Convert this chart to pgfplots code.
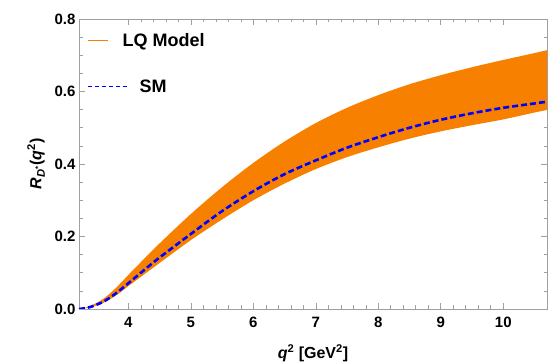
\documentclass[border=0pt]{standalone}
\usepackage{pgfplots}
\pgfplotsset{compat=1.18}
\usepgfplotslibrary{fillbetween}
\usepackage{fontspec}
\setmainfont{Liberation Sans}
\definecolor{lqorange}{RGB}{248,128,0}
\definecolor{framegray}{RGB}{160,160,160}
\begin{document}
\begin{tikzpicture}
\begin{axis}[
  scale only axis,
  width=468pt, height=290pt,
  xmin=3.21, xmax=10.7,
  ymin=0, ymax=0.8,
  xtick={4,5,6,7,8,9,10},
  ytick={0,0.2,0.4,0.6,0.8},
  minor x tick num=4,
  minor y tick num=3,
  tick align=inside,
  major tick length=6pt,
  minor tick length=3.5pt,
  axis line style={framegray, line width=0.8pt},
  every tick/.style={framegray, line width=0.6pt},
  xticklabel style={yshift=-5pt},
  yticklabel style={/pgf/number format/fixed, /pgf/number format/fixed zerofill, /pgf/number format/precision=1},
  tick label style={font=\bfseries\fontsize{15}{17}\selectfont},
  /pgf/number format/assume math mode=true,
  xlabel={\textbf{\textit{q}\textsuperscript{2} [GeV\textsuperscript{2}]}},
  ylabel={\textbf{\textit{R}\textsubscript{\textit{D}\textsuperscript{*}}(\textit{q}\textsuperscript{2})}},
  every axis x label/.style={at={(rel axis cs:0.5,0)}, yshift=-44pt, anchor=center, font=\fontsize{16}{18}\selectfont},
  every axis y label/.style={at={(rel axis cs:0,0.5)}, xshift=-43pt, rotate=90, anchor=center, font=\fontsize{16}{18}\selectfont},
  legend style={draw=none, fill=none, at={(rel axis cs:0,1)}, anchor=north west, xshift=8pt, yshift=-12pt, inner sep=0pt,
    font=\bfseries\fontsize{18}{20}\selectfont, row sep=28pt, legend cell align=left},
  clip=true,
]
\addlegendimage{legend image code/.code={\draw[lqorange, line width=1.4pt] (0pt,0pt) -- (20pt,0pt); \path (40pt,0pt);}}
\addlegendentry{\hspace{-8pt}LQ Model}
\addlegendimage{legend image code/.code={\draw[blue, line width=1.4pt, dash pattern=on 4.5pt off 2.5pt] (0pt,0pt) -- (40pt,0pt);}}
\addlegendentry{\hspace{9pt}SM}
\addplot[name path=top, draw=none, smooth, forget plot] coordinates {
(3.21,0.0) (3.3,0.003) (3.4,0.009) (3.6,0.028) (3.8,0.058) (4.0,0.094) (4.25,0.138) (4.5,0.181) (5.0,0.262) (5.5,0.336) (6.0,0.403) (6.5,0.462) (7.0,0.513) (7.5,0.555) (8.0,0.59) (8.5,0.62) (9.0,0.645) (9.5,0.667) (10.0,0.687) (10.5,0.706) (10.7,0.714)
};
\addplot[name path=bot, draw=none, smooth, forget plot] coordinates {
(3.21,0.0) (3.3,0.002) (3.4,0.005) (3.6,0.017) (3.8,0.037) (4.0,0.063) (4.25,0.095) (4.5,0.127) (5.0,0.19) (5.5,0.247) (6.0,0.3) (6.5,0.346) (7.0,0.386) (7.5,0.419) (8.0,0.446) (8.5,0.47) (9.0,0.49) (9.5,0.507) (10.0,0.523) (10.5,0.542) (10.7,0.549)
};
\addplot[fill=lqorange, draw=none, forget plot] fill between[of=top and bot];
\addplot[blue, line width=2.6pt, dash pattern=on 6pt off 3pt, smooth, forget plot] coordinates {
(3.21,0.0) (3.3,0.002) (3.4,0.006) (3.6,0.02) (3.8,0.043) (4.0,0.071) (4.25,0.107) (4.5,0.142) (5.0,0.207) (5.5,0.27) (6.0,0.325) (6.5,0.372) (7.0,0.41) (7.5,0.445) (8.0,0.474) (8.5,0.5) (9.0,0.522) (9.5,0.54) (10.0,0.555) (10.5,0.567) (10.7,0.572)
};
\end{axis}
\pgfresetboundingbox
\path ([shift={(-79pt,-55pt)}]current axis.south west) rectangle ([shift={(2pt,19pt)}]current axis.north east);
\end{tikzpicture}
\end{document}
